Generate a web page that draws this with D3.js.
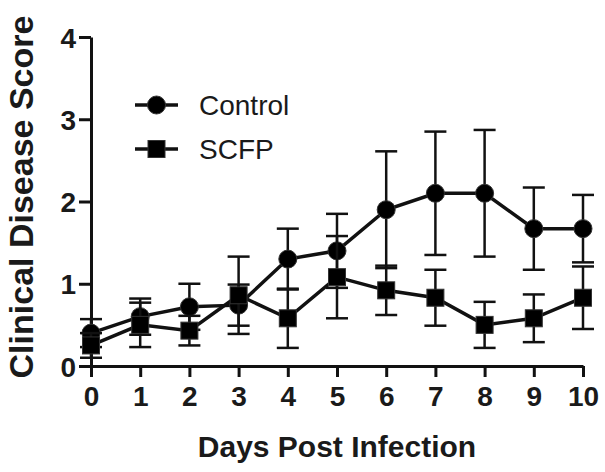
<!DOCTYPE html>
<html>
<head>
<meta charset="utf-8">
<script src="https://cdn.jsdelivr.net/npm/d3@7"></script>
<style>
  html, body { margin: 0; padding: 0; background: #fff; }
  svg { display: block; }
  text { font-family: "Liberation Sans", Arial, Helvetica, sans-serif; fill: #1a1a1a; }
</style>
</head>
<body>
<svg id="chart" width="605" height="472"></svg>
<script>
const days = [0, 1, 2, 3, 4, 5, 6, 7, 8, 9, 10];
const controlMean = [0.40, 0.60, 0.72, 0.74, 1.30, 1.40, 1.90, 2.10, 2.10, 1.67, 1.67];
const controlErr  = [0.17, 0.22, 0.28, 0.25, 0.37, 0.45, 0.71, 0.75, 0.77, 0.50, 0.41];
const scfpMean    = [0.25, 0.50, 0.43, 0.86, 0.58, 1.08, 0.92, 0.83, 0.50, 0.58, 0.83];
const scfpErr     = [0.15, 0.27, 0.18, 0.47, 0.36, 0.50, 0.30, 0.34, 0.28, 0.29, 0.38];
const xTicks = [0, 1, 2, 3, 4, 5, 6, 7, 8, 9, 10];
const yTicks = [0, 1, 2, 3, 4];
const seriesNames = ["Control", "SCFP"];

const svg = d3.select("#chart");
const ink = "#111";

const x = d3.scaleLinear().domain([0, 10]).range([91, 583]);
const y = d3.scaleLinear().domain([0, 4]).range([366, 37]);

// Axes
const yAxis = d3.axisLeft(y).tickValues(yTicks).tickFormat(d3.format("d"))
  .tickSize(12).tickPadding(3).tickSizeOuter(0);
const xAxis = d3.axisBottom(x).tickValues(xTicks).tickFormat(d3.format("d"))
  .tickSize(11).tickPadding(9).tickSizeOuter(0);

const gy = svg.append("g").attr("transform", `translate(${x(0)},0)`).call(yAxis);
const gx = svg.append("g").attr("transform", `translate(0,${y(0)})`).call(xAxis);

[gx, gy].forEach(g => {
  g.select(".domain").attr("stroke", ink).attr("stroke-width", 3);
  g.selectAll(".tick line").attr("stroke", ink).attr("stroke-width", 3);
  g.selectAll(".tick text")
    .attr("font-family", '"Liberation Sans", Arial, sans-serif')
    .attr("font-size", 28).attr("font-weight", "bold").attr("fill", "#1a1a1a");
});
gy.selectAll(".tick text").attr("dy", "0.36em");

// Axis titles
svg.append("text")
  .attr("x", 337).attr("y", 457)
  .attr("text-anchor", "middle")
  .attr("font-size", 30).attr("font-weight", "bold")
  .text("Days Post Infection");

svg.append("text")
  .attr("transform", "translate(33,197) rotate(-90)")
  .attr("text-anchor", "middle")
  .attr("font-size", 34).attr("font-weight", "bold")
  .text("Clinical Disease Score");

// Series
const series = [
  { name: seriesNames[0], mean: controlMean, err: controlErr, shape: "circle" },
  { name: seriesNames[1], mean: scfpMean, err: scfpErr, shape: "square" }
];

const line = d3.line().x(d => x(d.x)).y(d => y(d.y));
const capW = 11;

series.forEach(s => {
  const pts = days.map((d, i) => ({ x: d, y: s.mean[i], e: s.err[i] }));
  const g = svg.append("g");
  // error bars
  const eb = g.selectAll(".eb").data(pts).enter().append("g");
  eb.append("line")
    .attr("x1", d => x(d.x)).attr("x2", d => x(d.x))
    .attr("y1", d => y(d.y + d.e)).attr("y2", d => y(d.y - d.e))
    .attr("stroke", ink).attr("stroke-width", 2.5);
  eb.append("line")
    .attr("x1", d => x(d.x) - capW).attr("x2", d => x(d.x) + capW)
    .attr("y1", d => y(d.y + d.e)).attr("y2", d => y(d.y + d.e))
    .attr("stroke", ink).attr("stroke-width", 2.5);
  eb.append("line")
    .attr("x1", d => x(d.x) - capW).attr("x2", d => x(d.x) + capW)
    .attr("y1", d => y(d.y - d.e)).attr("y2", d => y(d.y - d.e))
    .attr("stroke", ink).attr("stroke-width", 2.5);
  // connecting line
  g.append("path").datum(pts).attr("d", line)
    .attr("fill", "none").attr("stroke", ink).attr("stroke-width", 3.5);
  // markers
  if (s.shape === "circle") {
    g.selectAll(".m").data(pts).enter().append("circle")
      .attr("cx", d => x(d.x)).attr("cy", d => y(d.y)).attr("r", 9)
      .attr("fill", "#000").attr("stroke", "#333").attr("stroke-width", 1);
  } else {
    g.selectAll(".m").data(pts).enter().append("rect")
      .attr("x", d => x(d.x) - 8.5).attr("y", d => y(d.y) - 8.5)
      .attr("width", 17).attr("height", 17)
      .attr("fill", "#000").attr("stroke", "#333").attr("stroke-width", 1);
  }
});

// Legend
const legendY = [105, 149];
series.forEach((s, i) => {
  const g = svg.append("g").attr("transform", `translate(0,${legendY[i]})`);
  g.append("line").attr("x1", 135).attr("x2", 178).attr("y1", 0).attr("y2", 0)
    .attr("stroke", ink).attr("stroke-width", 3.5);
  if (s.shape === "circle") {
    g.append("circle").attr("cx", 156.5).attr("cy", 0).attr("r", 9)
      .attr("fill", "#000").attr("stroke", "#333").attr("stroke-width", 1);
  } else {
    g.append("rect").attr("x", 148).attr("y", -8.5).attr("width", 17).attr("height", 17)
      .attr("fill", "#000").attr("stroke", "#333").attr("stroke-width", 1);
  }
  g.append("text").attr("x", 199).attr("y", 0).attr("dy", "0.36em")
    .attr("font-size", 28).text(s.name);
});
</script>
</body>
</html>
